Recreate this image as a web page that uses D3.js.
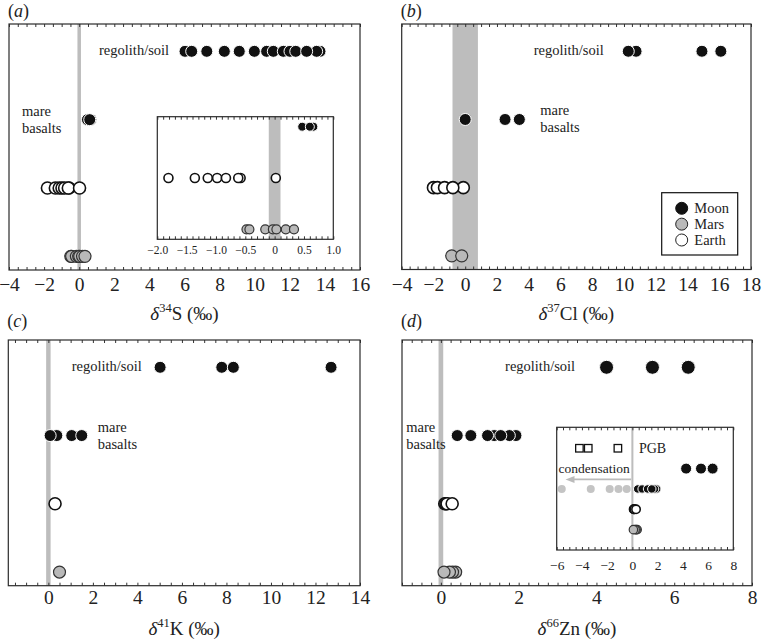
<!DOCTYPE html>
<html>
<head>
<meta charset="utf-8">
<script src="https://cdn.jsdelivr.net/npm/d3@7"></script>
<style>
  body { margin: 0; background: #fff; }
</style>
</head>
<body>
<svg width="762" height="639"></svg>
<script>
const svg = d3.select("svg"),
    width = +svg.attr("width"),
    height = +svg.attr("height");

const FONT = "'Liberation Serif', 'Times New Roman', serif";

// δ34S (‰)
const sTicks = [-4, -2, 0, 2, 4, 6, 8, 10, 12, 14, 16];
const sRegolith = [13.72, 13.53, 6.03, 6.41, 7.27, 8.27, 9.12, 9.98, 10.68, 11.06, 11.63, 12.01, 12.34, 12.96];
const sMare = [0.47, 0.66, 0.6];
const sEarth = [-1.81, -1.36, -1.14, -0.98, -0.83, -0.58, -0.62, 0.02];
const sMars = [-0.48, -0.43, -0.16, -0.03, 0.03, 0.19, 0.33];
const sInsetTicks = [-2, -1.5, -1, -0.5, 0, 0.5, 1];

// δ37Cl (‰)
const clTicks = [-4, -2, 0, 2, 4, 6, 8, 10, 12, 14, 16, 18];
const clRegolith = [10.76, 10.27, 14.91, 16.1];
const clMare = [0.0, 2.51, 3.41];
const clEarth = [-0.12, -2.0, -1.75, -1.3, -0.78];
const clMars = [-0.85, -0.22];

// δ41K (‰)
const kTicks = [0, 2, 4, 6, 8, 10, 12, 14];
const kRegolith = [5.02, 7.79, 8.31, 12.7];
const kMare = [0.38, 0.08, 1.05, 1.5];
const kEarth = [0.3];
const kMars = [0.5];

// δ66Zn (‰)
const znTicks = [0, 2, 4, 6, 8];
const znRegolith = [4.26, 5.44, 6.36];
const znMare = [1.93, 1.76, 1.37, 0.42, 0.77, 1.2, 1.54];
const znEarth = [0.1, 0.13, 0.16, 0.29];
const znMars = [0.38, 0.3, 0.22, 0.08];
const znInsetTicks = [-6, -4, -2, 0, 2, 4, 6, 8];
const znPgb = [-4.2, -3.5, -1.15];
const znCondensate = [-5.6, -3.3, -1.8, -1.1, -0.45];
const condensationArrow = [-0.1, -5.3];

const legendItems = ["Moon", "Mars", "Earth"];

const styles = {
    moon:  { fill: "#111", stroke: "#fff", sw: 1 },
    earth: { fill: "#fff", stroke: "#111", sw: 1.6 },
    mars:  { fill: "#b9b9b9", stroke: "#333", sw: 1.2 },
    cond:  { fill: "#c4c4c4", stroke: "none", sw: 0 }
};

function steps(lo, hi, step) {
    const n = Math.round((hi - lo) / step);
    return d3.range(n + 1).map(i => +(lo + i * step).toFixed(4));
}

// frame, gray band at 0, inward minor ticks, labels
function frame(x, top, bottom, o) {
    const [x0, x1] = x.range();
    const [d0, d1] = x.domain();
    svg.append("rect")
        .attr("x", x0).attr("y", top)
        .attr("width", x1 - x0).attr("height", bottom - top)
        .attr("fill", "#fff");
    svg.append("rect")
        .attr("x", x(-o.band)).attr("y", top)
        .attr("width", x(o.band) - x(-o.band)).attr("height", bottom - top)
        .attr("fill", "#bdbdbd");

    const minor = steps(Math.ceil(d0 / o.step) * o.step, d1, o.step);
    svg.append("g")
        .attr("transform", `translate(0,${bottom})`)
        .attr("color", "#333")
        .call(d3.axisBottom(x).tickValues(minor).tickSize(-3).tickFormat(""))
        .call(g => g.select(".domain").remove());
    svg.append("g")
        .attr("transform", `translate(0,${top})`)
        .attr("color", "#333")
        .call(d3.axisTop(x).tickValues(minor).tickSize(-3).tickFormat(""))
        .call(g => g.select(".domain").remove());

    svg.append("g")
        .attr("transform", `translate(0,${bottom})`)
        .call(d3.axisBottom(x).tickValues(o.labels).tickSize(0).tickPadding(o.pad).tickFormat(o.fmt))
        .call(g => g.select(".domain").remove())
        .selectAll("text")
            .attr("font-family", FONT)
            .attr("font-size", o.fs)
            .attr("fill", "#222");
}

function outline(x, top, bottom) {
    const [x0, x1] = x.range();
    svg.append("rect")
        .attr("x", x0).attr("y", top)
        .attr("width", x1 - x0).attr("height", bottom - top)
        .attr("fill", "none")
        .attr("stroke", "#2b2b2b")
        .attr("stroke-width", 1.2);
}

function dots(x, cy, values, kind, r) {
    const s = styles[kind];
    svg.append("g")
        .selectAll("circle")
        .data(values)
        .join("circle")
            .attr("cx", d => x(d))
            .attr("cy", cy)
            .attr("r", r)
            .attr("fill", s.fill)
            .attr("stroke", s.stroke)
            .attr("stroke-width", s.sw);
}

function label(px, py, str, fs) {
    return svg.append("text")
        .attr("x", px).attr("y", py)
        .attr("font-family", FONT)
        .attr("font-size", fs || 14.5)
        .attr("fill", "#222")
        .text(str);
}

const intFmt = d3.format("d");

const panels = [
    { tag: "a", iso: "34", el: "S", x: [9, 360], y: [24, 270], domain: [-4, 16], labels: sTicks,
      step: 0.5, band: 0.1, pad: 7.5, tagY: 17, titleY: 319.5, soil: 1.13, mare: -3.26,
      rows: [[sRegolith, "moon", 6], [sMare, "moon", 6], [sEarth, "earth", 6], [sMars, "mars", 6]] },
    { tag: "b", iso: "37", el: "Cl", x: [401.7, 751], y: [24, 269.5], domain: [-4, 18], labels: clTicks,
      step: 0.5, band: 0.8, pad: 7.3, tagY: 17, titleY: 319.5, soil: 4.31, mare: 4.73,
      rows: [[clRegolith, "moon", 6], [clMare, "moon", 6], [clEarth, "earth", 6], [clMars, "mars", 6]] },
    { tag: "c", iso: "41", el: "K", x: [8.3, 360], y: [340, 585.7], domain: [-1.8, 14], labels: kTicks,
      step: 0.5, band: 0.1, pad: 4.5, tagY: 327, titleY: 634.5, soil: 1.05, mare: 2.22,
      rows: [[kRegolith, "moon", 6], [kMare, "moon", 6], [kEarth, "earth", 6], [kMars, "mars", 6]] },
    { tag: "d", iso: "66", el: "Zn", x: [402, 752], y: [340, 585.7], domain: [-1, 8], labels: znTicks,
      step: 0.25, band: 0.06, pad: 4.5, tagY: 327, titleY: 634.5, soil: 1.65, mare: -0.89,
      rows: [[znRegolith, "moon", 7], [znMare, "moon", 6], [znEarth, "earth", 6], [znMars, "mars", 6]] }
];

panels.forEach(p => {
    const x = d3.scaleLinear().domain(p.domain).range(p.x);
    const y = d3.scaleLinear().domain([-0.4, 3.2]).range(p.y);
    frame(x, p.y[0], p.y[1], { band: p.band, step: p.step, labels: p.labels, fmt: intFmt, pad: p.pad, fs: 19.5 });

    p.rows.forEach((row, i) => dots(x, y(i), row[0], row[1], row[2]));

    label(x(p.soil), y(0) + 4, "regolith/soil");
    label(x(p.mare), y(1) - 4, "mare");
    label(x(p.mare), y(1) + 13, "basalts");

    outline(x, p.y[0], p.y[1]);

    // panel tag
    const t = label(p.x[0] - 1, p.tagY, "(", 18);
    t.append("tspan").attr("font-style", "italic").text(p.tag);
    t.append("tspan").text(")");

    // axis title
    const at = svg.append("text")
        .attr("x", (p.x[0] + p.x[1]) / 2)
        .attr("y", p.titleY)
        .attr("text-anchor", "middle")
        .attr("font-family", FONT)
        .attr("font-size", 19)
        .attr("fill", "#222");
    at.append("tspan").attr("font-style", "italic").text("δ");
    at.append("tspan").attr("font-size", 12.5).attr("dy", -7.5).text(p.iso);
    at.append("tspan").attr("dy", 7.5).text(p.el + " (‰)");
});

// inset (a)
{
    const x = d3.scaleLinear().domain([-2, 1]).range([157.3, 333.3]);
    const y = d3.scaleLinear().domain([-0.195, 2.195]).range([116.7, 239.3]);
    frame(x, 116.7, 239.3, { band: 0.1, step: 0.1, labels: sInsetTicks,
        fmt: d => d === 0 ? "0" : d3.format(".1f")(d), pad: 7, fs: 11.5 });
    dots(x, y(0), sMare, "moon", 4.5);
    dots(x, y(1), sEarth, "earth", 4.5);
    dots(x, y(2), sMars, "mars", 4.5);
    outline(x, 116.7, 239.3);
}

// inset (d)
{
    const x = d3.scaleLinear().domain([-6, 8]).range([556.7, 733.3]);
    const y = d3.scaleLinear().domain([-1.03, 5.0]).range([427.3, 550]);
    frame(x, 427.3, 550, { band: 0.08, step: 0.5, labels: znInsetTicks, fmt: intFmt, pad: 10, fs: 13.5 });

    const sq = 7.5;
    svg.append("g")
        .selectAll("rect")
        .data(znPgb)
        .join("rect")
            .attr("x", d => x(d) - sq / 2)
            .attr("y", y(0) - sq / 2)
            .attr("width", sq).attr("height", sq)
            .attr("fill", "#fff")
            .attr("stroke", "#111")
            .attr("stroke-width", 1.3);
    label(x(0.52), y(0) + 5, "PGB", 14);

    label(x(-5.86), y(1) + 4.5, "condensation", 13.5);
    const ay = y(1.53);
    svg.append("line")
        .attr("x1", x(condensationArrow[0])).attr("y1", ay)
        .attr("x2", x(condensationArrow[1]) + 6).attr("y2", ay)
        .attr("stroke", "#bbb").attr("stroke-width", 1.8);
    const tip = x(condensationArrow[1]);
    svg.append("path")
        .attr("d", `M${tip},${ay} L${tip + 9},${ay - 3.5} L${tip + 9},${ay + 3.5} Z`)
        .attr("fill", "#bbb");

    dots(x, y(1), znRegolith, "moon", 5.5);
    dots(x, y(2), znCondensate, "cond", 4);
    dots(x, y(2), znMare, "moon", 4.2);
    dots(x, y(3), znEarth, "earth", 4.2);
    dots(x, y(4), znMars, "mars", 4.2);
    outline(x, 427.3, 550);
}

// legend in panel (b)
{
    svg.append("rect")
        .attr("x", 661.7).attr("y", 192.7)
        .attr("width", 76).attr("height", 62.3)
        .attr("fill", "#fff")
        .attr("stroke", "#111")
        .attr("stroke-width", 1.2);
    const kinds = ["moon", "mars", "earth"];
    const ly = d3.scalePoint().domain(legendItems).range([208.3, 240]);
    legendItems.forEach((name, i) => {
        const s = styles[kinds[i]];
        svg.append("circle")
            .attr("cx", 681.7).attr("cy", ly(name)).attr("r", 6)
            .attr("fill", s.fill)
            .attr("stroke", kinds[i] == "moon" ? "#111" : "#222")
            .attr("stroke-width", 1);
        label(694.3, ly(name) + 5, name);
    });
}
</script>
</body>
</html>
